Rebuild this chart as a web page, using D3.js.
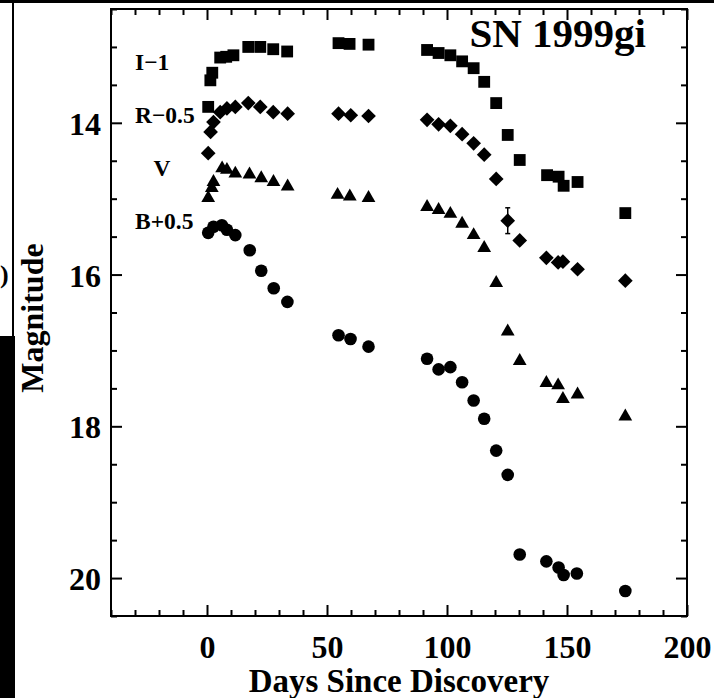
<!DOCTYPE html>
<html>
<head>
<meta charset="utf-8">
<script src="https://cdn.jsdelivr.net/npm/d3@7/dist/d3.min.js"></script>
<style>
	body { margin: 0; background: #fff; }
	svg { display: block; }
	text { font-family: "Liberation Serif", "Times New Roman", serif; font-weight: bold; fill: #000; }
</style>
</head>
<body>
<svg id="chart" width="714" height="698"></svg>
<script>
// days since discovery and observed magnitudes, per band (offsets applied when plotting)
const iDays = [0.5, 1.4, 2.2, 5.5, 8.0, 11.0, 17.2, 22.2, 27.6, 33.4, 54.8, 59.4, 67.3, 91.7, 96.5, 101.4, 106.3, 111.1, 115.5, 120.5, 125.3, 130.3, 141.7, 146.5, 148.6, 154.4, 174.3];
const iMags = [14.79, 14.44, 14.34, 14.14, 14.13, 14.11, 14.00, 14.00, 14.03, 14.06, 13.95, 13.96, 13.97, 14.04, 14.08, 14.11, 14.19, 14.28, 14.46, 14.74, 15.16, 15.49, 15.69, 15.71, 15.83, 15.78, 16.19];

const rDays = [0.5, 1.5, 2.7, 5.5, 8.3, 11.8, 17.2, 22.2, 27.6, 33.6, 54.8, 59.9, 67.3, 91.7, 96.5, 101.4, 106.3, 111.1, 115.5, 120.5, 125.3, 130.3, 141.4, 146.3, 148.3, 154.4, 174.3];
const rMags = [14.90, 14.62, 14.49, 14.36, 14.31, 14.29, 14.24, 14.29, 14.36, 14.38, 14.38, 14.40, 14.41, 14.46, 14.52, 14.54, 14.65, 14.77, 14.92, 15.24, 15.79, 16.05, 16.28, 16.34, 16.33, 16.43, 16.58];
const rErrs = [0, 0, 0, 0, 0, 0, 0, 0, 0, 0, 0, 0, 0, 0, 0, 0, 0, 0, 0, 0, 0.17, 0, 0, 0, 0, 0, 0];

const vDays = [0.5, 2.0, 2.7, 6.3, 8.3, 11.8, 17.7, 22.6, 27.7, 33.6, 54.4, 59.5, 67.3, 91.7, 96.5, 101.4, 106.3, 111.1, 115.5, 120.5, 125.3, 130.3, 141.4, 146.3, 148.3, 154.4, 174.3];
const vMags = [14.99, 14.86, 14.78, 14.60, 14.62, 14.67, 14.68, 14.73, 14.78, 14.84, 14.95, 14.97, 14.99, 15.11, 15.15, 15.20, 15.33, 15.48, 15.65, 16.11, 16.75, 17.14, 17.43, 17.46, 17.64, 17.58, 17.87];

const bDays = [0.5, 2.7, 6.2, 8.3, 11.8, 17.8, 22.6, 27.8, 33.5, 54.8, 59.8, 67.3, 91.7, 96.5, 101.4, 106.3, 111.1, 115.5, 120.5, 125.3, 130.3, 141.4, 146.5, 148.6, 154.1, 174.3];
const bMags = [14.95, 14.87, 14.85, 14.91, 14.98, 15.18, 15.45, 15.68, 15.86, 16.30, 16.35, 16.45, 16.61, 16.75, 16.72, 16.92, 17.16, 17.40, 17.82, 18.14, 19.19, 19.28, 19.36, 19.46, 19.44, 19.67];

const xMajorTicks = [0, 50, 100, 150, 200];
const yMajorTicks = [14, 16, 18, 20];

const bands = [
	{ label: 'I\u22121', offset: -1, days: iDays, mags: iMags, shape: 'square' },
	{ label: 'R\u22120.5', offset: -0.5, days: rDays, mags: rMags, errs: rErrs, shape: 'diamond' },
	{ label: 'V', offset: 0, days: vDays, mags: vMags, shape: 'triangle' },
	{ label: 'B+0.5', offset: 0.5, days: bDays, mags: bMags, shape: 'circle' }
];

const svg = d3.select('#chart');

// scan edges around the figure
svg.append('rect').attr('x', 0).attr('y', 0).attr('width', 714).attr('height', 3).attr('fill', '#000');
svg.append('rect').attr('x', 12).attr('y', 0).attr('width', 2).attr('height', 336).attr('fill', '#000');
svg.append('rect').attr('x', 0).attr('y', 336).attr('width', 15).attr('height', 362).attr('fill', '#000');
svg.append('text').attr('x', 0).attr('y', 283).attr('font-size', 26).text(')');

const x = d3.scaleLinear().domain([-40, 200]).range([111, 687]);
const y = d3.scaleLinear().domain([12.5, 20.5]).range([9, 616]);

const xMinor = d3.range(-40, 201, 10).filter(d => !xMajorTicks.includes(d));
const yMinor = d3.range(12.5, 20.51, 0.5).filter(d => !yMajorTicks.includes(d));

const styleAxis = (g) => {
	g.select('.domain').remove();
	g.selectAll('.tick line').attr('stroke', '#000').attr('stroke-width', 2);
	g.selectAll('.tick text').attr('font-family', '"Liberation Serif", serif').attr('font-weight', 'bold').attr('font-size', 32).attr('fill', '#000');
};

// bottom
svg.append('g').attr('transform', 'translate(0,616)')
	.call(d3.axisBottom(x).tickValues(xMajorTicks).tickSize(-11).tickPadding(0))
	.call(styleAxis)
	.call(g => g.selectAll('.tick text').attr('y', 42).attr('dy', 0));
svg.append('g').attr('transform', 'translate(0,616)')
	.call(d3.axisBottom(x).tickValues(xMinor).tickSize(-6).tickFormat(() => ''))
	.call(styleAxis);

// top
svg.append('g').attr('transform', 'translate(0,9)')
	.call(d3.axisTop(x).tickValues(xMajorTicks).tickSize(-11).tickFormat(() => ''))
	.call(styleAxis);
svg.append('g').attr('transform', 'translate(0,9)')
	.call(d3.axisTop(x).tickValues(xMinor).tickSize(-6).tickFormat(() => ''))
	.call(styleAxis);

// left
svg.append('g').attr('transform', 'translate(111,0)')
	.call(d3.axisLeft(y).tickValues(yMajorTicks).tickSize(-11).tickPadding(10))
	.call(styleAxis)
	.call(g => g.selectAll('.tick text').attr('dy', '0.36em'));
svg.append('g').attr('transform', 'translate(111,0)')
	.call(d3.axisLeft(y).tickValues(yMinor).tickSize(-6).tickFormat(() => ''))
	.call(styleAxis);

// right
svg.append('g').attr('transform', 'translate(687,0)')
	.call(d3.axisRight(y).tickValues(yMajorTicks).tickSize(-11).tickFormat(() => ''))
	.call(styleAxis);
svg.append('g').attr('transform', 'translate(687,0)')
	.call(d3.axisRight(y).tickValues(yMinor).tickSize(-6).tickFormat(() => ''))
	.call(styleAxis);

svg.append('rect')
	.attr('x', 111).attr('y', 9)
	.attr('width', 687 - 111).attr('height', 616 - 9)
	.attr('fill', 'none').attr('stroke', '#000').attr('stroke-width', 2);

// axis titles
svg.append('text')
	.attr('x', 399).attr('y', 692)
	.attr('text-anchor', 'middle')
	.attr('font-size', 33)
	.text('Days Since Discovery');

svg.append('text')
	.attr('transform', 'translate(43,318) rotate(-90)')
	.attr('text-anchor', 'middle')
	.attr('font-size', 32)
	.text('Magnitude');

svg.append('text')
	.attr('x', 646).attr('y', 47)
	.attr('text-anchor', 'end')
	.attr('font-size', 41)
	.text('SN 1999gi');

// band labels
const labelPos = [
	{ x: 135, y: 70, anchor: 'start' },
	{ x: 135, y: 123, anchor: 'start' },
	{ x: 162, y: 176, anchor: 'middle' },
	{ x: 135, y: 229, anchor: 'start' }
];
svg.selectAll('.band-label')
	.data(bands)
	.join('text')
	.attr('class', 'band-label')
	.attr('x', (d, i) => labelPos[i].x)
	.attr('y', (d, i) => labelPos[i].y)
	.attr('text-anchor', (d, i) => labelPos[i].anchor)
	.attr('font-size', 23.5)
	.text(d => d.label);

const symbolFor = {
	square: d3.symbol().type(d3.symbolSquare).size(140),
	diamond: d3.symbol().type(d3.symbolSquare).size(108),
	triangle: d3.symbol().type(d3.symbolTriangle).size(82),
	circle: d3.symbol().type(d3.symbolCircle).size(125)
};

const plot = svg.append('g').attr('class', 'points');

bands.forEach(band => {
	const pts = band.days.map((d, i) => ({
		day: d,
		mag: band.mags[i] + band.offset,
		err: band.errs ? band.errs[i] : 0
	}));

	const errPts = pts.filter(p => p.err > 0);
	const eb = plot.selectAll(null).data(errPts).join('g').attr('stroke', '#000').attr('stroke-width', 1.5);
	eb.append('line')
		.attr('x1', p => x(p.day)).attr('x2', p => x(p.day))
		.attr('y1', p => y(p.mag - p.err)).attr('y2', p => y(p.mag + p.err));
	eb.append('line')
		.attr('x1', p => x(p.day) - 2.5).attr('x2', p => x(p.day) + 2.5)
		.attr('y1', p => y(p.mag - p.err)).attr('y2', p => y(p.mag - p.err));
	eb.append('line')
		.attr('x1', p => x(p.day) - 2.5).attr('x2', p => x(p.day) + 2.5)
		.attr('y1', p => y(p.mag + p.err)).attr('y2', p => y(p.mag + p.err));

	plot.selectAll(null)
		.data(pts)
		.join('path')
		.attr('d', symbolFor[band.shape])
		.attr('transform', p => 'translate(' + x(p.day) + ',' + y(p.mag) + ')' + (band.shape === 'diamond' ? ' rotate(45)' : ''))
		.attr('fill', '#000');
});
</script>
</body>
</html>
